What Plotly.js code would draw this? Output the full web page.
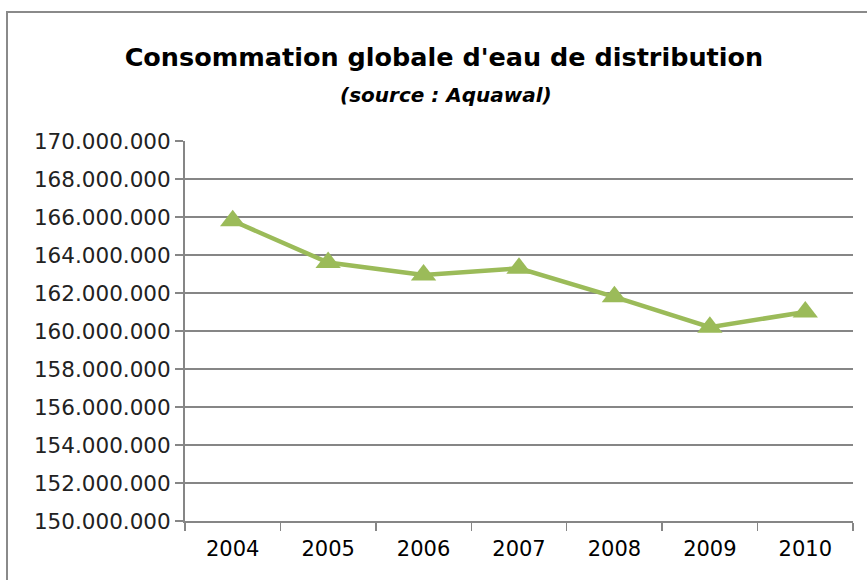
<!DOCTYPE html>
<html>
<head>
<meta charset="utf-8">
<script src="https://cdn.plot.ly/plotly-3.0.1.min.js"></script>
<style>html,body{margin:0;padding:0;background:#fff;}#chart{width:867px;height:580px;}</style>
</head>
<body>
<div id="chart"></div>
<script>
const years = ['2004', '2005', '2006', '2007', '2008', '2009', '2010'];
const consumption = [165800000, 163600000, 162950000, 163300000, 161800000, 160200000, 161000000];
const titleText = "Consommation globale d'eau de distribution";
const subtitleText = "(source : Aquawal)";

const trace = {
  x: years,
  y: consumption,
  type: 'scatter',
  mode: 'lines+markers',
  line: {color: '#9BBB59', width: 4.5},
  marker: {symbol: 'triangle-up', size: 22, color: '#9BBB59'},
  hoverinfo: 'x+y'
};

const layout = {
  width: 867,
  height: 580,
  margin: {l: 185, r: 14, t: 141, b: 59},
  paper_bgcolor: '#ffffff',
  plot_bgcolor: '#ffffff',
  separators: ',.',
  showlegend: false,
  title: {
    text: '<b>' + titleText + '</b>',
    font: {family: 'DejaVu Sans, sans-serif', size: 25.5, color: '#000000'},
    x: 0.512, xanchor: 'center', xref: 'container',
    y: 1 - 57/580, yanchor: 'middle', yref: 'container'
  },
  annotations: [{
    text: '<b><i>' + subtitleText + '</i></b>',
    xref: 'paper', yref: 'paper',
    x: 0.39, y: 1 + (141 - 95)/380,
    xanchor: 'center', yanchor: 'middle',
    showarrow: false,
    font: {family: 'DejaVu Sans, sans-serif', size: 20, color: '#000000'}
  }],
  shapes: [{
    type: 'rect', xref: 'paper', yref: 'paper',
    x0: (7 - 185)/668, x1: 1.5, y0: -0.5, y1: 1 + (141 - 12)/380,
    line: {color: '#8a8a8a', width: 2}, layer: 'below'
  }],
  xaxis: {
    type: 'category',
    range: [-0.5, 6.5],
    showgrid: false,
    showline: true, linecolor: '#868686', linewidth: 2,
    ticks: 'outside', tickson: 'boundaries', ticklen: 8, tickwidth: 1.5, tickcolor: '#868686',
    ticklabelstandoff: 8,
    tickfont: {family: 'DejaVu Sans, sans-serif', size: 21, color: '#000000'},
    zeroline: false, fixedrange: true
  },
  yaxis: {
    range: [150000000, 170000000],
    dtick: 2000000,
    tick0: 150000000,
    tickformat: ',d',
    showgrid: true, gridcolor: '#868686', gridwidth: 1.5,
    showline: true, linecolor: '#868686', linewidth: 2,
    ticks: 'outside', ticklen: 8, tickwidth: 1.5, tickcolor: '#868686',
    tickfont: {family: 'DejaVu Sans, sans-serif', size: 21.5, color: '#222222'},
    zeroline: false, fixedrange: true
  }
};

Plotly.newPlot('chart', [trace], layout, {displayModeBar: false, staticPlot: true});
</script>
</body>
</html>
